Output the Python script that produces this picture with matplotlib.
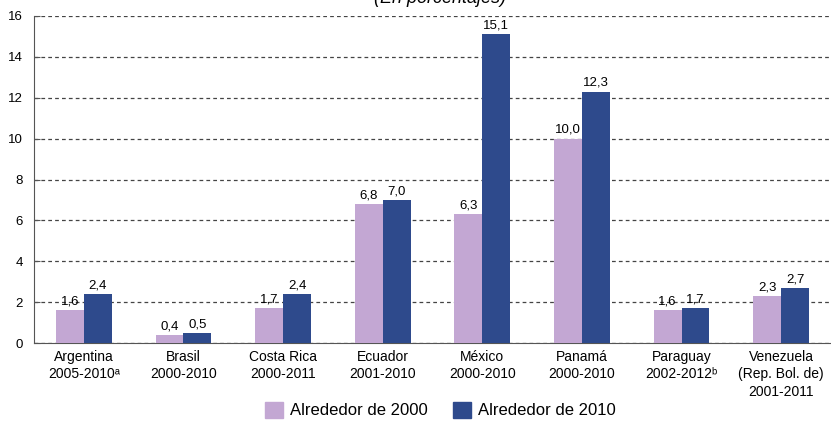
import matplotlib
matplotlib.use("Agg")
import matplotlib.pyplot as plt
import numpy as np
from matplotlib.patches import Patch

categories = ["Argentina\n2005-2010\u1d43", "Brasil\n2000-2010", "Costa Rica\n2000-2011",
              "Ecuador\n2001-2010", "México\n2000-2010", "Panamá\n2000-2010",
              "Paraguay\n2002-2012\u1d47", "Venezuela\n(Rep. Bol. de)\n2001-2011"]
v2000 = [1.6, 0.4, 1.7, 6.8, 6.3, 10.0, 1.6, 2.3]
v2010 = [2.4, 0.5, 2.4, 7.0, 15.1, 12.3, 1.7, 2.7]
series_names = ["Alrededor de 2000", "Alrededor de 2010"]
yticks = [0, 2, 4, 6, 8, 10, 12, 14, 16]

plt.rcParams['font.family'] = ['Liberation Sans', 'DejaVu Sans']
c1 = "#C3A7D3"
c2 = "#2E4A8C"

fig = plt.figure(figsize=(8.31, 4.21), dpi=100)
ax = fig.add_axes([34/831, 1-343/421, 1-34/831, (343-16)/421])
x = np.arange(len(categories))
w = 0.28
b1 = ax.bar(x - w/2, v2000, w, color=c1, zorder=3)
b2 = ax.bar(x + w/2, v2010, w, color=c2, zorder=3)
def fmt(v):
    return f"{v:.1f}".replace(".", ",")
for rects, vals in ((b1, v2000), (b2, v2010)):
    for r, v in zip(rects, vals):
        ax.annotate(fmt(v), (r.get_x() + r.get_width()/2, v), xytext=(0, 2),
                    textcoords="offset points", ha="center", va="bottom", fontsize=9.5)
ax.set_ylim(0, 16)
ax.set_xlim(-0.5, len(categories) - 0.5)
ax.set_yticks(yticks)
ax.set_yticklabels([str(t) for t in yticks], fontsize=9.5)
ax.set_xticks(x)
ax.set_xticklabels(categories, fontsize=10, linespacing=1.3)
ax.tick_params(axis='x', length=0, pad=5)
ax.tick_params(axis='y', length=4, direction='in', pad=8, color="#555555")
ax.yaxis.grid(True, linestyle=(0, (3, 2.5)), color="#444444", linewidth=0.9, zorder=0)
for s in ["top", "right"]:
    ax.spines[s].set_visible(False)
ax.spines['left'].set_color("#555555")
ax.spines['bottom'].set_color("#555555")

handles = [Patch(color=c1), Patch(color=c2)]
fig.legend(handles, series_names, loc="center", bbox_to_anchor=(440/831, 1-410/421),
           ncol=2, frameon=False, fontsize=12, handlelength=1.1, handleheight=1.1,
           columnspacing=1.5, handletextpad=0.4)
fig.text(440/831, 1.003, "(En porcentajes)", ha="center", va="center", fontsize=13, style="italic")
fig.savefig("out.png", dpi=100)
